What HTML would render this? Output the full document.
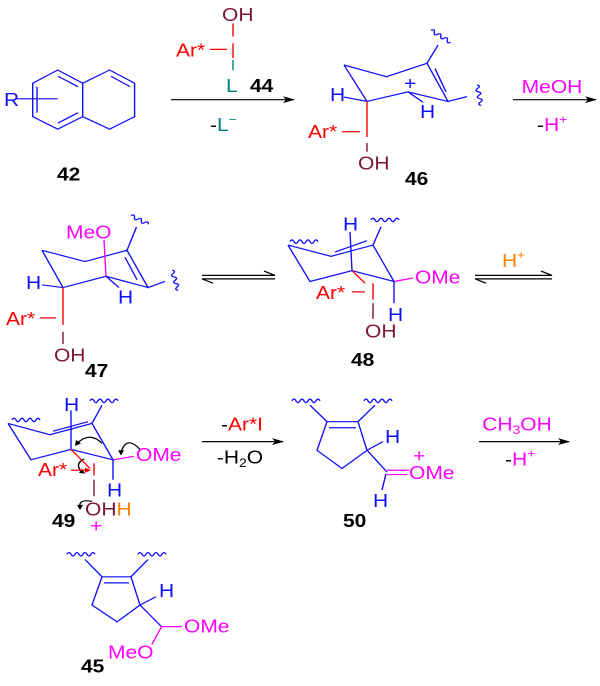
<!DOCTYPE html>
<html><head><meta charset="utf-8"><style>
html,body{margin:0;padding:0;background:#fff}
svg{display:block}
text{font-family:"Liberation Sans",Arial,sans-serif;font-size:21px;dominant-baseline:central}
.b{stroke:#1010ff;fill:none;stroke-width:1.4}
.r{stroke:#ff0000;fill:none;stroke-width:1.4}
.m{stroke:#7a1535;fill:none;stroke-width:1.4}
.p{stroke:#ff00ff;fill:none;stroke-width:1.4}
.k{stroke:#000;fill:none;stroke-width:1.4}
.bold{font-weight:bold;fill:#000}
</style></head><body>
<svg width="600" height="686" viewBox="0 0 600 686" xmlns="http://www.w3.org/2000/svg">
<defs>
<marker id="ah" markerWidth="12" markerHeight="8" refX="11" refY="4" orient="auto" markerUnits="userSpaceOnUse"><path d="M0,0 L12,4 L0,8 L3,4z" fill="#000"/></marker>
</defs>
<g transform="scale(1,0.8667)">
<polygon class="b" points="57.7,80.8 82.7,96 82.7,134.6 57.7,149 32.7,134.6 32.7,96"/>
<polyline class="b" points="82.7,96 109.6,80.8 134.6,96 134.6,134.6 109.6,149 82.7,134.6"/>
<line class="b" x1="58" y1="88" x2="78" y2="100"/>
<line class="b" x1="58" y1="142" x2="78" y2="130"/>
<line class="b" x1="37" y1="100" x2="37" y2="130"/>
<line class="b" x1="111" y1="88" x2="130" y2="100"/>
<line class="b" x1="17" y1="114" x2="57.7" y2="114"/>
<text x="4" y="116" fill="#1010ff">R</text>
<text x="57" y="202" class="bold">42</text>
<text x="222" y="18" fill="#7a1535">OH</text>
<line class="r" x1="233" y1="27" x2="233" y2="42"/>
<text x="176" y="59" fill="#ff0000">Ar*</text>
<line class="r" x1="210" y1="57" x2="227" y2="57"/>
<line class="r" x1="233" y1="50" x2="233" y2="67"/>
<line x1="233" y1="69" x2="233" y2="81" stroke="#008080" stroke-width="1.4"/>
<text x="226" y="100" fill="#008080">L</text>
<text x="250" y="100" class="bold">44</text>
<line class="k" x1="171" y1="115" x2="294" y2="115" marker-end="url(#ah)"/>
<text x="210" y="145" fill="#000">-<tspan fill="#008080">L</tspan><tspan fill="#008080" font-size="14" dy="-8">−</tspan></text>
<polyline class="b" points="344,75 386.5,88.5 427,73 448,117 408,106 367,117 344,75"/>
<line class="b" x1="435" y1="79" x2="446" y2="106"/>
<line class="b" x1="427" y1="73" x2="438" y2="52"/>
<path class="b" transform="translate(431,35) rotate(35)" d="M0,0 q2,-4 4,0 t4,0 t4,0 t4,0 t4,0 t4,0"/>
<line class="b" x1="448" y1="117" x2="467" y2="111.5"/>
<path class="b" transform="translate(477,98) rotate(80)" d="M0,0 q2,-4 4,0 t4,0 t4,0 t4,0 t4,0 t4,0"/>
<text x="404" y="97" fill="#1010ff" font-size="13">+</text>
<text x="330" y="110" fill="#1010ff">H</text>
<line class="b" x1="344" y1="112" x2="367" y2="117"/>
<text x="420" y="130" fill="#1010ff">H</text>
<line class="b" x1="408" y1="106" x2="423" y2="118"/>
<line class="r" x1="367" y1="117" x2="367" y2="158"/>
<text x="308" y="153" fill="#ff0000">Ar*</text>
<line class="r" x1="342" y1="152" x2="360" y2="152"/>
<line class="m" x1="367" y1="165" x2="367" y2="175"/>
<text x="358" y="189" fill="#7a1535">OH</text>
<text x="405" y="207" class="bold">46</text>
<line class="k" x1="513" y1="115" x2="596" y2="115" marker-end="url(#ah)"/>
<text x="552" y="101" fill="#ff00ff" text-anchor="middle">MeOH</text>
<text x="537" y="145" fill="#000">-<tspan fill="#ff00ff">H</tspan><tspan fill="#ff00ff" font-size="14" dy="-8">+</tspan></text>
</g>
<g transform="translate(0,26.67) scale(1,0.8667)">
<polyline class="b" points="42,258 85,271 127,258 148,301 106,288 63,301 42,258"/>
<line class="b" x1="125" y1="266" x2="137" y2="292"/>
<line class="b" x1="127" y1="258" x2="136.5" y2="231"/>
<path class="b" transform="translate(131,218) rotate(30)" d="M0,0 q2,-4 4,0 t4,0 t4,0 t4,0 t4,0"/>
<line class="b" x1="148" y1="301" x2="165" y2="294"/>
<path class="b" transform="translate(172,281) rotate(75)" d="M0,0 q2,-4 4,0 t4,0 t4,0 t4,0 t4,0 t4,0"/>
<text x="66" y="238" fill="#ff00ff">MeO</text>
<line class="p" x1="104" y1="246" x2="106" y2="288"/>
<text x="26" y="296" fill="#1010ff">H</text>
<line class="b" x1="42" y1="298" x2="63" y2="301"/>
<text x="118" y="313" fill="#1010ff">H</text>
<line class="b" x1="106" y1="288" x2="119" y2="301"/>
<line class="r" x1="63" y1="301" x2="63" y2="344"/>
<text x="6" y="338" fill="#ff0000">Ar*</text>
<line class="r" x1="40" y1="336" x2="56" y2="336"/>
<line class="m" x1="63" y1="352" x2="63" y2="366"/>
<text x="54" y="380" fill="#7a1535">OH</text>
<text x="85" y="398" class="bold">47</text>
<path d="M202,287 L275,287 L264,282" class="k" stroke-width="1.2"/>
<path d="M275,291 L202,291 L213,296" class="k" stroke-width="1.2"/>
<polyline class="b" points="288,252 331,265 373,252 394,294 352,281.5 310,294 288,252"/>
<line class="b" x1="335" y1="260" x2="367" y2="247"/>
<line class="b" x1="350" y1="237" x2="352" y2="281.5"/>
<text x="343" y="229" fill="#1010ff">H</text>
<path class="b" d="M290,248 q2,-4 4,0 t4,0 t4,0 t4,0 t4,0 t4,0 t4,0"/>
<line class="b" x1="373" y1="252" x2="381" y2="231"/>
<path class="b" d="M371,223 q2,-4 4,0 t4,0 t4,0 t4,0 t4,0 t4,0 t4,0"/>
<text x="415" y="290" fill="#ff00ff">OMe</text>
<line class="p" x1="394" y1="294" x2="413" y2="290"/>
<line class="b" x1="394" y1="294" x2="394" y2="319"/>
<text x="388" y="333" fill="#1010ff">H</text>
<line class="r" x1="352" y1="281.5" x2="365" y2="296"/>
<text x="316" y="308" fill="#ff0000">Ar*</text>
<line class="r" x1="352" y1="306" x2="365" y2="306"/>
<line class="r" x1="373" y1="296" x2="373" y2="315"/>
<line class="m" x1="373" y1="319" x2="373" y2="337"/>
<text x="365" y="352" fill="#7a1535">OH</text>
<text x="351" y="385" class="bold">48</text>
<path d="M475,287 L552,287 L541,282" class="k" stroke-width="1.2"/>
<path d="M552,291 L475,291 L486,296" class="k" stroke-width="1.2"/>
<text x="502" y="271" fill="#ff8000">H<tspan font-size="14" dy="-8">+</tspan></text>
</g>
<g transform="translate(0,53.33) scale(1,0.8667)">
<polyline class="b" points="8,427 50,440 92,427 113,469 71,457 31,469 8,427"/>
<line class="b" x1="53" y1="436" x2="88" y2="425"/>
<line class="b" x1="71" y1="412" x2="71" y2="457"/>
<text x="64" y="406" fill="#1010ff">H</text>
<path class="b" d="M12,423 q2,-4 4,0 t4,0 t4,0 t4,0 t4,0 t4,0 t4,0"/>
<line class="b" x1="92" y1="427" x2="102" y2="406"/>
<path class="b" d="M90,401 q2,-4 4,0 t4,0 t4,0 t4,0 t4,0 t4,0 t4,0"/>
<text x="136" y="464" fill="#ff00ff">OMe</text>
<line class="p" x1="113" y1="469" x2="134" y2="465"/>
<line class="b" x1="113" y1="469" x2="113" y2="492"/>
<text x="107" y="505" fill="#1010ff">H</text>
<path class="k" d="M102,450 Q90,436 77,450"/><path d="M75,453 l1,-7 l5,4z" fill="#000"/>
<path class="k" d="M140,457 Q126,440 121,461"/><path d="M121,464 l-3,-6 l6,0z" fill="#000"/>
<path class="k" d="M84,468 Q74,474 82,483"/><path d="M85,485 l-6,-1 l3,-5z" fill="#000"/>
<path class="k" d="M92,517 Q78,514 80,524"/><path d="M80,527 l-3,-6 l6,0z" fill="#000"/>
<line class="r" x1="71" y1="457" x2="90" y2="479"/>
<text x="38" y="481" fill="#ff0000">Ar*</text>
<line class="r" x1="71" y1="481" x2="87" y2="481"/><path d="M91,481 l-6,-3 l0,6z" fill="#ff0000"/>
<line class="r" x1="94" y1="473" x2="94" y2="487"/>
<line class="m" x1="94" y1="492" x2="94" y2="511"/>
<text x="85" y="527" fill="#7a1535">OH<tspan fill="#ff8000">H</tspan></text>
<text x="90" y="546" fill="#ff00ff" font-size="13">+</text>
<text x="52" y="540" class="bold">49</text>
<line class="k" x1="202" y1="448" x2="283" y2="448" marker-end="url(#ah)"/>
<text x="242" y="429" fill="#ff0000" text-anchor="middle"><tspan fill="#000">-</tspan>Ar*I</text>
<text x="240" y="467" fill="#000" text-anchor="middle">-H<tspan font-size="14" dy="5">2</tspan><tspan dy="-5">O</tspan></text>
<polygon class="b" points="327,425 358,425 367,458 342,479 317,458"/>
<line class="b" x1="329" y1="432" x2="356" y2="432"/>
<line class="b" x1="327" y1="425" x2="310" y2="406"/>
<line class="b" x1="358" y1="425" x2="375" y2="406"/>
<path class="b" d="M292,401 q2,-4 4,0 t4,0 t4,0 t4,0 t4,0 t4,0 t4,0"/>
<path class="b" d="M364,401 q2,-4 4,0 t4,0 t4,0 t4,0 t4,0 t4,0 t4,0"/>
<text x="385" y="443" fill="#1010ff">H</text>
<line class="b" x1="367" y1="458" x2="383" y2="448"/>
<line class="b" x1="367" y1="458" x2="387" y2="483"/>
<line class="p" x1="387" y1="481" x2="409" y2="481"/>
<line class="p" x1="387" y1="486" x2="407" y2="486"/>
<text x="409" y="485" fill="#ff00ff">OMe</text>
<text x="413" y="465" fill="#ff00ff" font-size="13">+</text>
<line class="b" x1="386" y1="485" x2="382" y2="504"/>
<text x="373" y="517" fill="#1010ff">H</text>
<text x="343" y="540" class="bold">50</text>
<line class="k" x1="479" y1="448" x2="569" y2="448" marker-end="url(#ah)"/>
<text x="517" y="429" fill="#ff00ff" text-anchor="middle">CH<tspan font-size="14" dy="5">3</tspan><tspan dy="-5">OH</tspan></text>
<text x="505" y="469" fill="#000">-<tspan fill="#ff00ff">H</tspan><tspan fill="#ff00ff" font-size="14" dy="-8">+</tspan></text>
<polygon class="b" points="102,604 131,604 140,636.5 117,656 92,636.5"/>
<line class="b" x1="104" y1="611" x2="129" y2="611"/>
<line class="b" x1="102" y1="604" x2="85" y2="584"/>
<line class="b" x1="131" y1="604" x2="148" y2="584"/>
<path class="b" d="M67,578 q2,-4 4,0 t4,0 t4,0 t4,0 t4,0 t4,0 t4,0"/>
<path class="b" d="M138,578 q2,-4 4,0 t4,0 t4,0 t4,0 t4,0 t4,0 t4,0"/>
<text x="159" y="621" fill="#1010ff">H</text>
<line class="b" x1="140" y1="636.5" x2="156" y2="627"/>
<line class="b" x1="140" y1="636.5" x2="161.5" y2="661.5"/>
<line class="p" x1="161.5" y1="661.5" x2="182" y2="661.5"/>
<text x="184" y="662" fill="#ff00ff">OMe</text>
<line class="p" x1="161.5" y1="661.5" x2="152" y2="682"/>
<text x="108" y="692" fill="#ff00ff">MeO</text>
<text x="81" y="708" class="bold">45</text>
</g>
</svg>
</body></html>
